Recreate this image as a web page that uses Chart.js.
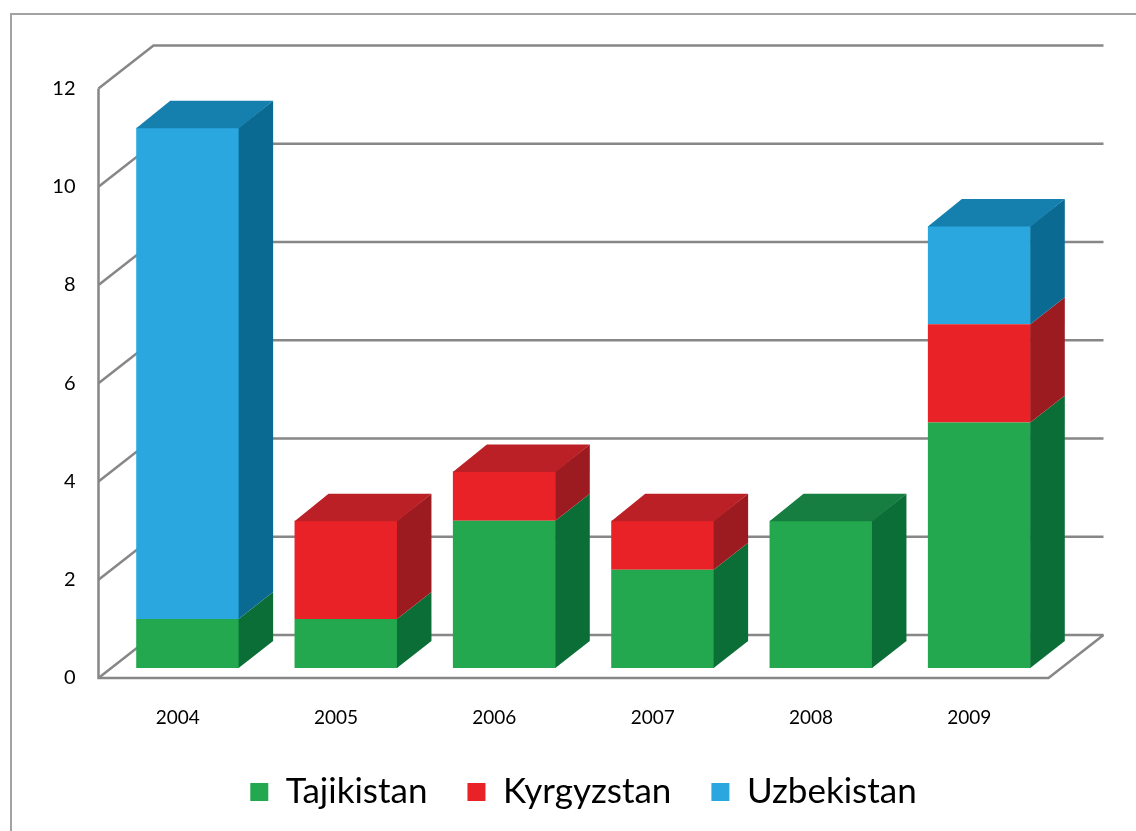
<!DOCTYPE html>
<html>
<head>
<meta charset="utf-8">
<title>Tajikistan / Kyrgyzstan / Uzbekistan 2004-2009</title>
<script src="https://cdn.jsdelivr.net/npm/chart.js@4.4.1/dist/chart.umd.min.js"></script>
<style>
  html, body { margin: 0; padding: 0; background: #fff; }
  canvas { display: block; }
</style>
</head>
<body>
<canvas id="chart" width="1136" height="831"></canvas>
<script>
const years = ['2004', '2005', '2006', '2007', '2008', '2009'];
const tajikistan = [1, 1, 3, 2, 3, 5];
const kyrgyzstan = [0, 2, 1, 1, 0, 2];
const uzbekistan = [10, 0, 0, 0, 0, 2];

// fake 3D: offsets of the front plane, back wall and bar depth (px)
const FRONT = { dx: -10, dy: 10 };
const BACK = { dx: 45, dy: -33 };
const DEPTH = { dx: 34, dy: -27 };

function quad(ctx, pts) {
  ctx.beginPath();
  ctx.moveTo(pts[0][0], pts[0][1]);
  for (let i = 1; i < pts.length; i++) ctx.lineTo(pts[i][0], pts[i][1]);
  ctx.closePath();
  ctx.fill();
}

// frame, walls and gridlines behind the bars
const walls = {
  id: 'walls',
  beforeDatasetsDraw(chart) {
    const { ctx, chartArea: { left, right }, scales: { y } } = chart;
    ctx.save();
    ctx.strokeStyle = '#a3a3a3';
    ctx.lineWidth = 2;
    ctx.beginPath();
    ctx.moveTo(11, chart.height);
    ctx.lineTo(11, 14);
    ctx.lineTo(chart.width, 14);
    ctx.stroke();

    ctx.strokeStyle = '#878787';
    ctx.lineWidth = 2.5;
    y.ticks.forEach(t => {
      const py = y.getPixelForValue(t.value);
      ctx.beginPath();
      ctx.moveTo(left + FRONT.dx, py + FRONT.dy);
      ctx.lineTo(left + BACK.dx, py + BACK.dy);
      ctx.lineTo(right + BACK.dx, py + BACK.dy);
      ctx.stroke();
    });
    const y0 = y.getPixelForValue(0);
    const yTop = y.getPixelForValue(y.max);
    ctx.beginPath();
    ctx.moveTo(left + FRONT.dx, yTop + FRONT.dy);
    ctx.lineTo(left + FRONT.dx, y0 + FRONT.dy);
    ctx.lineTo(right + FRONT.dx, y0 + FRONT.dy);
    ctx.lineTo(right + BACK.dx, y0 + BACK.dy);
    ctx.stroke();
    ctx.restore();
  }
};

// side and top faces of the stacked blocks
const blocks = {
  id: 'blocks',
  afterDatasetsDraw(chart) {
    const { ctx } = chart;
    const metas = chart.getSortedVisibleDatasetMetas();
    ctx.save();
    metas.forEach(meta => {
      const ds = chart.data.datasets[meta.index];
      meta.data.forEach(bar => {
        const { x, y, base, width } = bar.getProps(['x', 'y', 'base', 'width'], true);
        if (Math.abs(base - y) < 0.5) return;
        const r = x + width / 2;
        ctx.fillStyle = ds.sideColor;
        quad(ctx, [[r - 0.5, y], [r + DEPTH.dx, y + DEPTH.dy], [r + DEPTH.dx, base + DEPTH.dy], [r - 0.5, base]]);
      });
    });
    years.forEach((_, j) => {
      let topMeta = null;
      metas.forEach(meta => {
        if (chart.data.datasets[meta.index].data[j] > 0) topMeta = meta;
      });
      if (!topMeta) return;
      const { x, y, width } = topMeta.data[j].getProps(['x', 'y', 'width'], true);
      const l = x - width / 2, r = x + width / 2;
      ctx.fillStyle = chart.data.datasets[topMeta.index].topColor;
      quad(ctx, [[l, y + 0.5], [l + DEPTH.dx, y + DEPTH.dy], [r + DEPTH.dx, y + DEPTH.dy], [r, y + 0.5]]);
    });
    ctx.restore();
  }
};

new Chart(document.getElementById('chart'), {
  type: 'bar',
  data: {
    labels: years,
    datasets: [
      { label: 'Tajikistan', data: tajikistan, backgroundColor: '#23a84f', sideColor: '#0b6e37', topColor: '#167e41' },
      { label: 'Kyrgyzstan', data: kyrgyzstan, backgroundColor: '#e92227', sideColor: '#9c1b20', topColor: '#bc2027' },
      { label: 'Uzbekistan', data: uzbekistan, backgroundColor: '#2ba7e0', sideColor: '#0b6a92', topColor: '#1580ae' }
    ]
  },
  options: {
    responsive: false,
    animation: false,
    datasets: { bar: { barPercentage: 0.65, categoryPercentage: 1, borderWidth: 0 } },
    layout: { padding: { left: 0, right: 77.5, top: 78.5, bottom: 11.5 } },
    scales: {
      x: {
        stacked: true,
        grid: { display: false },
        border: { display: false },
        ticks: { color: '#000', font: { family: 'Lato', size: 19 }, labelOffset: -10, padding: 30, maxRotation: 0 },
        afterFit(scale) { scale.height = 66.5; }
      },
      y: {
        stacked: true,
        min: 0,
        max: 12,
        grid: { display: false },
        border: { display: false },
        ticks: { stepSize: 2, color: '#000', font: { family: 'Lato', size: 20 }, labelOffset: 10, padding: 25 },
        afterFit(scale) { scale.width = 108.5; }
      }
    },
    plugins: {
      legend: {
        position: 'bottom',
        fullSize: false,
        labels: { color: '#000', font: { family: 'Lato', size: 35 }, boxWidth: 18, boxHeight: 18, padding: 40 }
      },
      tooltip: { enabled: false }
    }
  },
  plugins: [walls, blocks]
});
</script>
</body>
</html>
